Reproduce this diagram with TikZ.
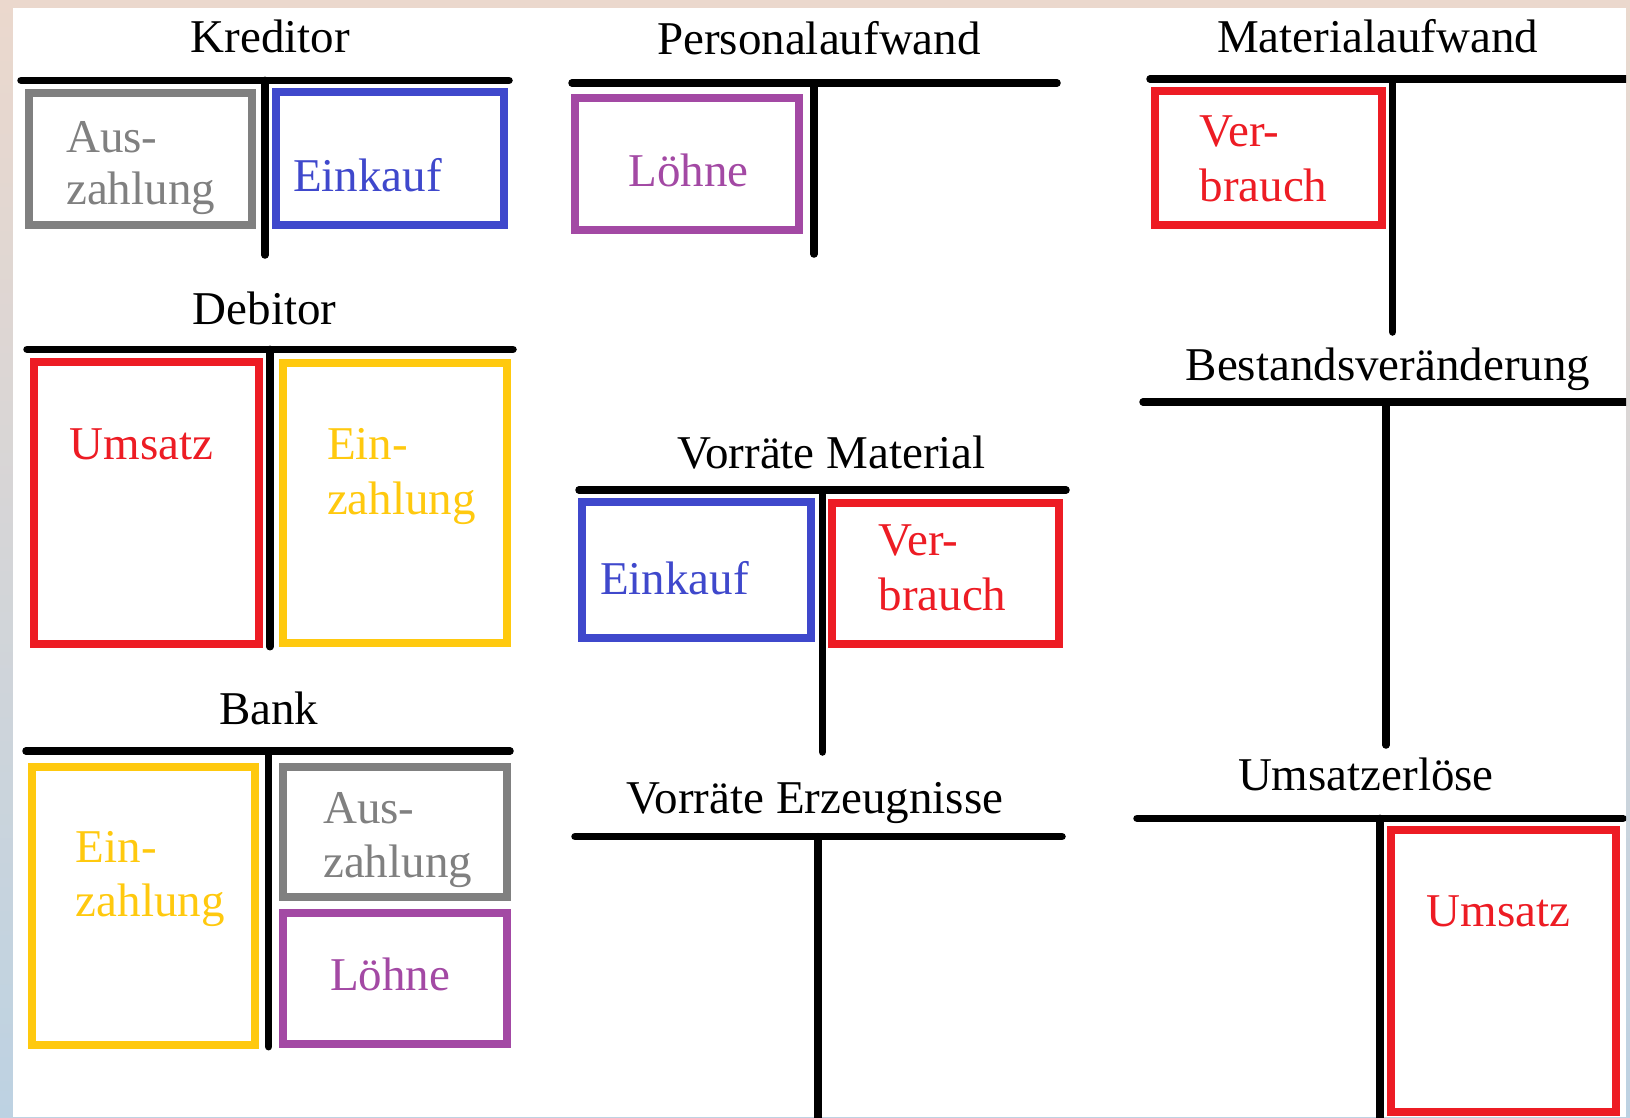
\documentclass[tikz,border=0pt]{standalone}
\usepackage{fontspec}
\setmainfont{Liberation Serif}
\definecolor{accgray}{HTML}{808080}
\definecolor{accblue}{HTML}{3F48CC}
\definecolor{accred}{HTML}{ED1C24}
\definecolor{accyellow}{HTML}{FFC90E}
\definecolor{accpurple}{HTML}{A349A4}
\definecolor{frametop}{HTML}{EBD8CD}
\definecolor{framemid}{HTML}{D5BDCF}
\definecolor{framebot}{HTML}{BDD2E2}
\begin{document}
\begin{tikzpicture}[x=1pt,y=-1pt,
  tline/.style={line width=7.5pt,line cap=round,black},
  entry/.style={line width=8pt},
  lbl/.style={inner sep=0pt,anchor=base west,font=\fontsize{47}{56}\selectfont},
  title/.style={inner sep=0pt,anchor=base,font=\fontsize{47}{56}\selectfont}]
\useasboundingbox (0,0) rectangle (1630,1117);
% soft coloured frame and white sheet
\shade[top color=frametop,middle color=framemid,bottom color=framebot] (0,0) rectangle (1630,1117);
\fill[white] (13,8) rectangle (1626,1117);
\begin{scope}
\clip (13,8) rectangle (1626,1117);

% ---------- Kreditor ----------
\node[title] (tKred) at (270.5,52.7) {Kreditor};
\draw[tline] (21,80.3) -- (509,80.3);
\draw[tline] (265,80.3) -- (265,255);
\draw[entry,accgray] (28.5,93.3) rectangle (252,224.7);
\node[lbl,accgray] (kAus1) at (66,152.7) {Aus-};
\node[lbl,accgray] (kAus2) at (66,204) {zahlung};
\draw[entry,accblue] (275.5,92.3) rectangle (504,225.3);
\node[lbl,accblue] (kEink) at (293,191.7) {Einkauf};

% ---------- Debitor ----------
\node[title] (tDeb) at (264.5,324.3) {Debitor};
\draw[tline] (27,349.3) -- (513,349.3);
\draw[tline] (270,349.3) -- (270,646.7);
\draw[entry,accred] (34.4,362.3) rectangle (258.5,644.3);
\node[lbl,accred] (dUms) at (69.6,459.3) {Umsatz};
\draw[entry,accyellow] (282.6,363) rectangle (506.7,642.7);
\node[lbl,accyellow] (dEin1) at (326.8,459.3) {Ein-};
\node[lbl,accyellow] (dEin2) at (326.8,514) {zahlung};

% ---------- Bank ----------
\node[title] (tBank) at (268.8,724) {Bank};
\draw[tline] (26,751) -- (510,751);
\draw[tline] (268.6,751) -- (268.6,1046.7);
\draw[entry,accyellow] (32,766.7) rectangle (255,1045.3);
\node[lbl,accyellow] (bEin1) at (75.7,862.3) {Ein-};
\node[lbl,accyellow] (bEin2) at (75.7,916) {zahlung};
\draw[entry,accgray] (282.6,766.7) rectangle (506.7,896.7);
\node[lbl,accgray] (bAus1) at (323,823.3) {Aus-};
\node[lbl,accgray] (bAus2) at (323,877.3) {zahlung};
\draw[entry,accpurple] (282.6,913.3) rectangle (506.7,1044.3);
\node[lbl,accpurple] (bLoe) at (330,990) {Löhne};

% ---------- Personalaufwand ----------
\node[title] (tPers) at (819,54) {Personalaufwand};
\draw[tline] (572,83) -- (1057,83);
\draw[tline] (814,83) -- (814,254);
\draw[entry,accpurple] (574.5,98) rectangle (798.5,229.5);
\node[lbl,accpurple] (pLoe) at (628.3,186) {Löhne};

% ---------- Vorräte Material ----------
\node[title] (tVM) at (831.5,468) {Vorräte Material};
\draw[tline] (579,490) -- (1066,490);
\draw[tline] (822.7,490) -- (822.7,752);
\draw[entry,accblue] (582.3,501.7) rectangle (811,637.7);
\node[lbl,accblue] (vmEink) at (600,594.3) {Einkauf};
\draw[entry,accred] (832.3,503.3) rectangle (1059.3,644.3);
\node[lbl,accred] (vmVer1) at (878.3,555) {Ver-};
\node[lbl,accred] (vmVer2) at (878.3,610) {brauch};

% ---------- Vorräte Erzeugnisse ----------
\node[title] (tVE) at (815,813) {Vorräte Erzeugnisse};
\draw[tline] (575,836.7) -- (1062,836.7);
\draw[tline] (818,836.7) -- (818,1140);

% ---------- Materialaufwand ----------
\node[title] (tMat) at (1377.5,52) {Materialaufwand};
\draw[tline] (1150,79) -- (1660,79);
\draw[tline] (1392.7,79) -- (1392.7,332);
\draw[entry,accred] (1154.5,90.5) rectangle (1382,224.5);
\node[lbl,accred] (maVer1) at (1199.3,146.7) {Ver-};
\node[lbl,accred] (maVer2) at (1199.3,201) {brauch};

% ---------- Bestandsveränderung ----------
\node[title] (tBest) at (1388,380) {Bestandsveränderung};
\draw[tline] (1143,402) -- (1660,402);
\draw[tline] (1386,402) -- (1386,745);

% ---------- Umsatzerlöse ----------
\node[title] (tUmsE) at (1365.9,790.7) {Umsatzerlöse};
\draw[tline] (1137,818.3) -- (1623,818.3);
\draw[tline] (1380,818.3) -- (1380,1140);
\draw[entry,accred] (1390.7,830) rectangle (1616,1112);
\node[lbl,accred] (ueUms) at (1426.7,926.7) {Umsatz};
\end{scope}
\end{tikzpicture}
\end{document}
